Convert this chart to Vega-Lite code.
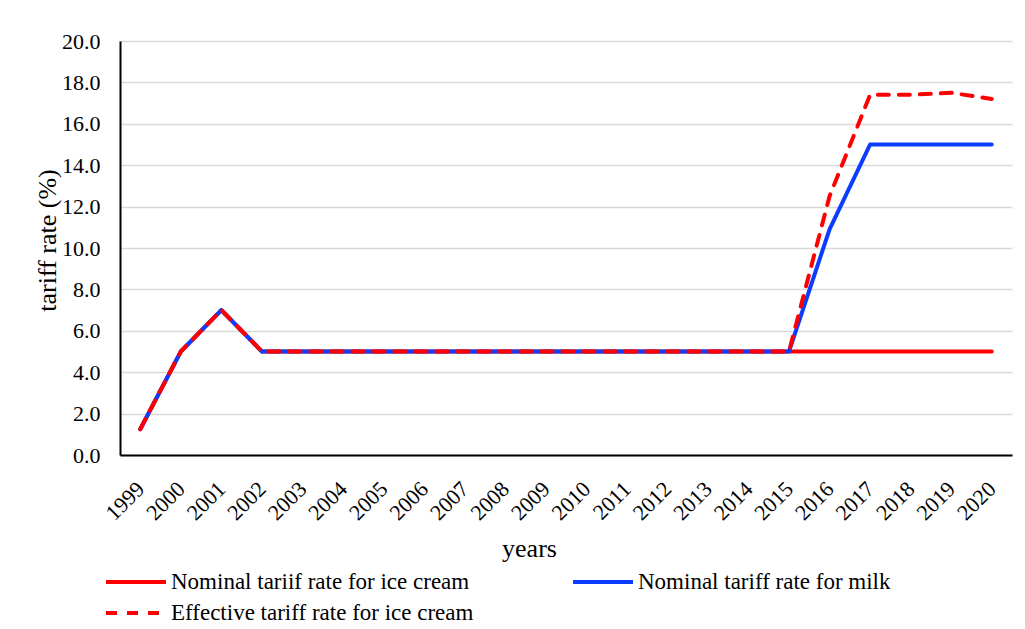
{
  "$schema": "https://vega.github.io/schema/vega-lite/v6.json",
  "width": 892,
  "height": 414,
  "autosize": {"type": "none"},
  "padding": {"left": 120, "top": 41, "right": 13, "bottom": 174},
  "background": "white",
  "config": {"view": {"stroke": null}, "font": "Liberation Serif"},
  "data": {"values": [
    {"year": 1999, "series": "Nominal tariif rate for ice cream", "rate": 1.25},
    {"year": 2000, "series": "Nominal tariif rate for ice cream", "rate": 5.0},
    {"year": 2001, "series": "Nominal tariif rate for ice cream", "rate": 7.0},
    {"year": 2002, "series": "Nominal tariif rate for ice cream", "rate": 5.0},
    {"year": 2003, "series": "Nominal tariif rate for ice cream", "rate": 5.0},
    {"year": 2004, "series": "Nominal tariif rate for ice cream", "rate": 5.0},
    {"year": 2005, "series": "Nominal tariif rate for ice cream", "rate": 5.0},
    {"year": 2006, "series": "Nominal tariif rate for ice cream", "rate": 5.0},
    {"year": 2007, "series": "Nominal tariif rate for ice cream", "rate": 5.0},
    {"year": 2008, "series": "Nominal tariif rate for ice cream", "rate": 5.0},
    {"year": 2009, "series": "Nominal tariif rate for ice cream", "rate": 5.0},
    {"year": 2010, "series": "Nominal tariif rate for ice cream", "rate": 5.0},
    {"year": 2011, "series": "Nominal tariif rate for ice cream", "rate": 5.0},
    {"year": 2012, "series": "Nominal tariif rate for ice cream", "rate": 5.0},
    {"year": 2013, "series": "Nominal tariif rate for ice cream", "rate": 5.0},
    {"year": 2014, "series": "Nominal tariif rate for ice cream", "rate": 5.0},
    {"year": 2015, "series": "Nominal tariif rate for ice cream", "rate": 5.0},
    {"year": 2016, "series": "Nominal tariif rate for ice cream", "rate": 5.0},
    {"year": 2017, "series": "Nominal tariif rate for ice cream", "rate": 5.0},
    {"year": 2018, "series": "Nominal tariif rate for ice cream", "rate": 5.0},
    {"year": 2019, "series": "Nominal tariif rate for ice cream", "rate": 5.0},
    {"year": 2020, "series": "Nominal tariif rate for ice cream", "rate": 5.0},
    {"year": 1999, "series": "Nominal tariff rate for milk", "rate": 1.25},
    {"year": 2000, "series": "Nominal tariff rate for milk", "rate": 5.0},
    {"year": 2001, "series": "Nominal tariff rate for milk", "rate": 7.0},
    {"year": 2002, "series": "Nominal tariff rate for milk", "rate": 5.0},
    {"year": 2003, "series": "Nominal tariff rate for milk", "rate": 5.0},
    {"year": 2004, "series": "Nominal tariff rate for milk", "rate": 5.0},
    {"year": 2005, "series": "Nominal tariff rate for milk", "rate": 5.0},
    {"year": 2006, "series": "Nominal tariff rate for milk", "rate": 5.0},
    {"year": 2007, "series": "Nominal tariff rate for milk", "rate": 5.0},
    {"year": 2008, "series": "Nominal tariff rate for milk", "rate": 5.0},
    {"year": 2009, "series": "Nominal tariff rate for milk", "rate": 5.0},
    {"year": 2010, "series": "Nominal tariff rate for milk", "rate": 5.0},
    {"year": 2011, "series": "Nominal tariff rate for milk", "rate": 5.0},
    {"year": 2012, "series": "Nominal tariff rate for milk", "rate": 5.0},
    {"year": 2013, "series": "Nominal tariff rate for milk", "rate": 5.0},
    {"year": 2014, "series": "Nominal tariff rate for milk", "rate": 5.0},
    {"year": 2015, "series": "Nominal tariff rate for milk", "rate": 5.0},
    {"year": 2016, "series": "Nominal tariff rate for milk", "rate": 10.9},
    {"year": 2017, "series": "Nominal tariff rate for milk", "rate": 15.0},
    {"year": 2018, "series": "Nominal tariff rate for milk", "rate": 15.0},
    {"year": 2019, "series": "Nominal tariff rate for milk", "rate": 15.0},
    {"year": 2020, "series": "Nominal tariff rate for milk", "rate": 15.0},
    {"year": 1999, "series": "Effective tariff rate for ice cream", "rate": 1.25},
    {"year": 2000, "series": "Effective tariff rate for ice cream", "rate": 5.0},
    {"year": 2001, "series": "Effective tariff rate for ice cream", "rate": 7.0},
    {"year": 2002, "series": "Effective tariff rate for ice cream", "rate": 5.0},
    {"year": 2003, "series": "Effective tariff rate for ice cream", "rate": 5.0},
    {"year": 2004, "series": "Effective tariff rate for ice cream", "rate": 5.0},
    {"year": 2005, "series": "Effective tariff rate for ice cream", "rate": 5.0},
    {"year": 2006, "series": "Effective tariff rate for ice cream", "rate": 5.0},
    {"year": 2007, "series": "Effective tariff rate for ice cream", "rate": 5.0},
    {"year": 2008, "series": "Effective tariff rate for ice cream", "rate": 5.0},
    {"year": 2009, "series": "Effective tariff rate for ice cream", "rate": 5.0},
    {"year": 2010, "series": "Effective tariff rate for ice cream", "rate": 5.0},
    {"year": 2011, "series": "Effective tariff rate for ice cream", "rate": 5.0},
    {"year": 2012, "series": "Effective tariff rate for ice cream", "rate": 5.0},
    {"year": 2013, "series": "Effective tariff rate for ice cream", "rate": 5.0},
    {"year": 2014, "series": "Effective tariff rate for ice cream", "rate": 5.0},
    {"year": 2015, "series": "Effective tariff rate for ice cream", "rate": 5.0},
    {"year": 2016, "series": "Effective tariff rate for ice cream", "rate": 12.5},
    {"year": 2017, "series": "Effective tariff rate for ice cream", "rate": 17.4},
    {"year": 2018, "series": "Effective tariff rate for ice cream", "rate": 17.4},
    {"year": 2019, "series": "Effective tariff rate for ice cream", "rate": 17.5},
    {"year": 2020, "series": "Effective tariff rate for ice cream", "rate": 17.2}
  ]},
  "mark": {"type": "line", "strokeWidth": 4, "strokeCap": "round", "strokeJoin": "round"},
  "encoding": {
    "x": {
      "field": "year", "type": "ordinal", "sort": null,
      "scale": {"type": "point", "padding": 0.5},
      "axis": {
        "title": "years", "titleFont": "Liberation Serif", "titleFontSize": 26, "titleFontWeight": "normal", "titleColor": "black",
        "titleX": 409, "titleY": 93, "titleBaseline": "middle", "titleAlign": "center",
        "labelFont": "Liberation Serif", "labelFontSize": 22, "labelColor": "black", "labelAngle": -45,
        "labelAlign": "right", "labelBaseline": "middle", "labelPadding": 30,
        "ticks": false, "domainColor": "black", "domainWidth": 2, "grid": false
      }
    },
    "y": {
      "field": "rate", "type": "quantitative",
      "scale": {"domain": [0, 20], "nice": false},
      "axis": {
        "title": "tariff rate (%)", "titleFont": "Liberation Serif", "titleFontSize": 26, "titleFontWeight": "normal", "titleColor": "black",
        "titleX": -73, "titleY": 199, "titleAngle": 270, "titleAlign": "center", "titleBaseline": "middle",
        "values": [0, 2, 4, 6, 8, 10, 12, 14, 16, 18, 20], "format": ".1f",
        "labelFont": "Liberation Serif", "labelFontSize": 22, "labelColor": "black", "labelPadding": 20,
        "ticks": false, "domainColor": "black", "domainWidth": 2,
        "grid": true, "gridColor": "#d9d9d9", "gridWidth": 1.5
      }
    },
    "color": {
      "field": "series", "type": "nominal",
      "scale": {
        "domain": ["Nominal tariif rate for ice cream", "Nominal tariff rate for milk", "Effective tariff rate for ice cream"],
        "range": ["#FF0000", "#0B3DFF", "#FF0000"]
      },
      "legend": {
        "title": null, "orient": "none", "direction": "horizontal", "legendX": 2, "legendY": 527, "columns": 2, "columnPadding": 91, "rowPadding": 5,
        "symbolType": "M-2.5,0H2.5", "symbolSize": 576, "symbolStrokeWidth": 4,
        "labelFont": "Liberation Serif", "labelFontSize": 23, "labelColor": "black", "labelOffset": 21, "labelLimit": 0
      }
    },
    "strokeDash": {
      "field": "series", "type": "nominal",
      "scale": {
        "domain": ["Nominal tariif rate for ice cream", "Nominal tariff rate for milk", "Effective tariff rate for ice cream"],
        "range": [[1, 0], [1, 0], [11, 10]]
      },
      "legend": {
        "title": null, "orient": "none", "direction": "horizontal", "legendX": 2, "legendY": 527, "columns": 2, "columnPadding": 91, "rowPadding": 5,
        "symbolType": "M-2.5,0H2.5", "symbolSize": 576, "symbolStrokeWidth": 4,
        "labelFont": "Liberation Serif", "labelFontSize": 23, "labelColor": "black", "labelOffset": 21, "labelLimit": 0
      }
    }
  }
}
